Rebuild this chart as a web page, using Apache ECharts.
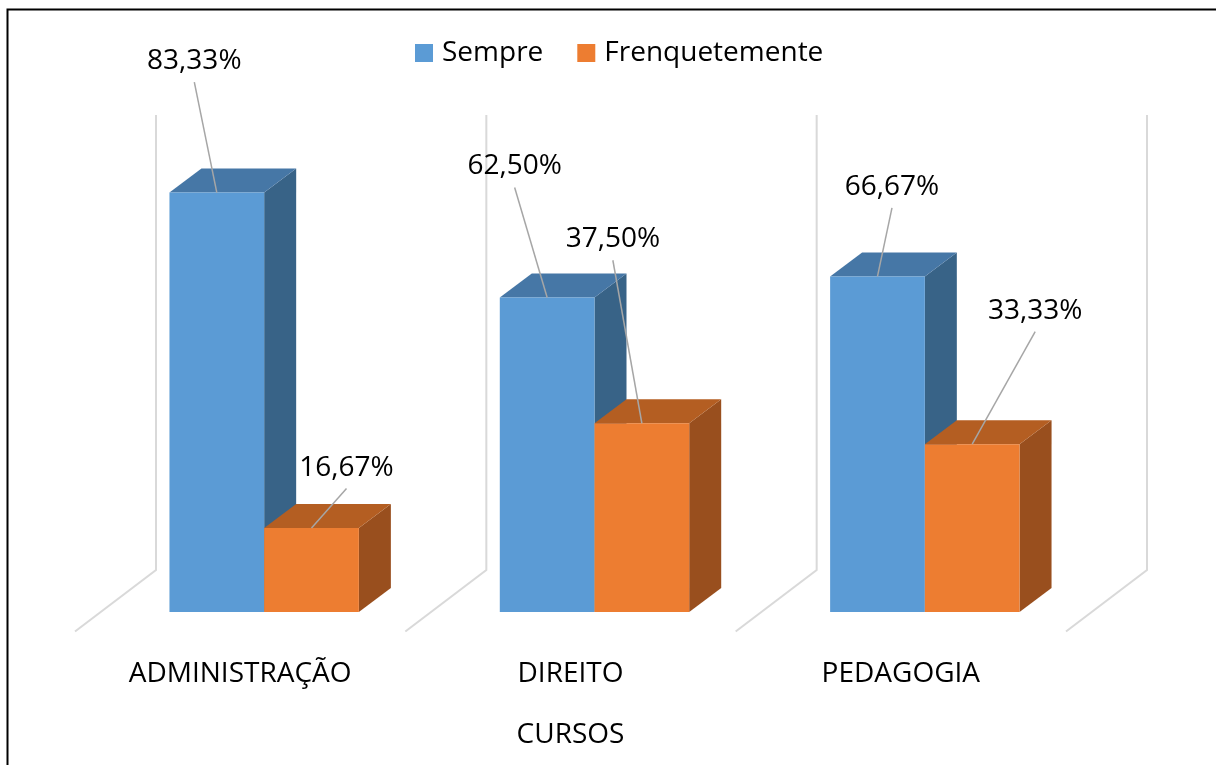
<!DOCTYPE html>
<html>
<head>
<meta charset="utf-8">
<script src="https://cdn.jsdelivr.net/npm/echarts@6/dist/echarts.min.js"></script>
<style>
html,body{margin:0;padding:0;background:#fff;}
#chart{width:1216px;height:765px;}
</style>
</head>
<body>
<div id="chart"></div>
<script>
// ---- data ----
const categories = ['ADMINISTRAÇÃO', 'DIREITO', 'PEDAGOGIA'];
const seriesNames = ['Sempre', 'Frenquetemente'];
const sempre = [83.33, 62.50, 66.67];
const frequentemente = [16.67, 37.50, 33.33];
const axisTitle = 'CURSOS';
const valueMax = 90;

// ---- layout / style (not data) ----
const FONT = '"Open Sans", "Liberation Sans", sans-serif';
const FS = 28;
const BAR_FRAC = 0.2867;
const DEPTH = [32, -24];      // bar depth projection
const WALL = [57, -43];       // back wall offset from bar front plane
const FLOOR = [-24, 19.5];    // floor front edge offset from bar front plane
const colors = {
  front: ['#5B9BD5', '#ED7D31'],
  top:   ['#4677A6', '#B45E22'],
  side:  ['#386387', '#994F1E']
};
// label centre offsets from bar front-top centre, per series per category
const labelOffsets = [
  [[-22.5, -132.5], [-32.5, -132], [14.5, -90.5]],
  [[35, -61.5], [-29, -185], [63, -134.5]]
];

function fmt(v) { return v.toFixed(2).replace('.', ',') + '%'; }

const valueSets = [sempre, frequentemente];

function barGeom(api, ci, v, si) {
  const base = api.coord([ci, 0]);
  const top = api.coord([ci, v]);
  const slot = api.size([1, 0])[0];
  const bw = slot * BAR_FRAC;
  const x0 = si === 0 ? base[0] - bw : base[0];
  return { x0: x0, x1: x0 + bw, yT: top[1], yB: base[1] };
}

function makeBarRender(si) {
  return function (params, api) {
    const ci = api.value(0), v = api.value(1);
    const g = barGeom(api, ci, v, si);
    const dx = DEPTH[0], dy = DEPTH[1];
    return {
      type: 'group',
      children: [
        { type: 'polygon', shape: { points: [[g.x1, g.yT], [g.x1 + dx, g.yT + dy], [g.x1 + dx, g.yB + dy], [g.x1, g.yB]] },
          style: { fill: colors.side[si] } },
        { type: 'polygon', shape: { points: [[g.x0, g.yT], [g.x0 + dx, g.yT + dy], [g.x1 + dx, g.yT + dy], [g.x1, g.yT]] },
          style: { fill: colors.top[si] } },
        { type: 'rect', shape: { x: g.x0, y: g.yT, width: g.x1 - g.x0, height: g.yB - g.yT },
          style: { fill: colors.front[si] } }
      ]
    };
  };
}

function renderLabel(params, api) {
  const ci = api.value(0), v = api.value(1), si = api.value(2);
  const g = barGeom(api, ci, v, si);
  const ax = (g.x0 + g.x1) / 2, ay = g.yT;
  const off = labelOffsets[si][ci];
  const lx = ax + off[0], ly = ay + off[1];
  return {
    type: 'group',
    children: [
      { type: 'line', shape: { x1: lx, y1: ly + 22, x2: ax, y2: ay },
        style: { stroke: '#A6A6A6', lineWidth: 1.5 } },
      { type: 'text', style: { text: fmt(v), x: lx, y: ly + 1, align: 'center', verticalAlign: 'middle',
          font: FS + 'px ' + FONT, fill: '#000' } }
    ]
  };
}

function renderWalls(params, api) {
  const ci = api.value(0);
  const slot = api.size([1, 0])[0];
  const base = api.coord([ci, 0]);
  const topY = api.coord([ci, valueMax])[1];
  const xs = [base[0] - slot / 2];
  if (ci === categories.length - 1) xs.push(base[0] + slot / 2);
  const children = [];
  xs.forEach(function (x) {
    children.push({ type: 'polyline', shape: { points: [
      [x + WALL[0], topY + WALL[1] - 1],
      [x + WALL[0], base[1] + WALL[1] + 1],
      [x + FLOOR[0], base[1] + FLOOR[1]]
    ] }, style: { stroke: '#D9D9D9', lineWidth: 2, fill: null } });
  });
  return { type: 'group', children: children };
}

const labelData = [];
valueSets.forEach(function (vals, si) {
  vals.forEach(function (v, ci) { labelData.push([ci, v, si]); });
});

const chart = echarts.init(document.getElementById('chart'), null, { renderer: 'canvas' });
chart.setOption({
  backgroundColor: '#fff',
  animation: false,
  textStyle: { fontFamily: FONT },
  graphic: [{
    type: 'rect', shape: { x: 7.5, y: 9.5, width: 1240, height: 800 },
    style: { fill: null, stroke: '#000', lineWidth: 2 }, silent: true
  }],
  legend: {
    data: seriesNames,
    left: 415, top: 39,
    icon: 'rect', itemWidth: 18, itemHeight: 18, itemGap: 34,
    padding: 0,
    textStyle: { fontSize: FS, fontFamily: FONT, color: '#000', padding: [0, 0, 0, 4] }
  },
  grid: [
    { left: 99, right: 126, top: 159, bottom: 153 },
    { left: 75, right: 150, top: 200, bottom: 133.3 }
  ],
  xAxis: [
    { type: 'category', gridIndex: 0, data: categories, show: false },
    { type: 'category', gridIndex: 1, data: categories,
      axisLine: { show: false }, axisTick: { show: false },
      axisLabel: { margin: 28, fontSize: FS, fontFamily: FONT, color: '#000' },
      name: axisTitle, nameLocation: 'middle', nameGap: 89,
      nameTextStyle: { fontSize: FS, fontFamily: FONT, color: '#000' } }
  ],
  yAxis: [
    { type: 'value', gridIndex: 0, min: 0, max: valueMax, show: false },
    { type: 'value', gridIndex: 1, min: 0, max: valueMax, show: false }
  ],
  series: [
    { type: 'custom', name: '_walls', xAxisIndex: 0, yAxisIndex: 0, z: 1, silent: true,
      renderItem: renderWalls, data: categories.map(function (c, i) { return [i]; }), encode: { x: 0 } },
    { type: 'custom', name: seriesNames[0], xAxisIndex: 0, yAxisIndex: 0, z: 2,
      itemStyle: { color: colors.front[0] }, renderItem: makeBarRender(0),
      data: sempre.map(function (v, i) { return [i, v]; }), encode: { x: 0, y: 1 } },
    { type: 'custom', name: seriesNames[1], xAxisIndex: 0, yAxisIndex: 0, z: 3,
      itemStyle: { color: colors.front[1] }, renderItem: makeBarRender(1),
      data: frequentemente.map(function (v, i) { return [i, v]; }), encode: { x: 0, y: 1 } },
    { type: 'custom', name: '_labels', xAxisIndex: 0, yAxisIndex: 0, z: 5, silent: true,
      renderItem: renderLabel, data: labelData, encode: { x: 0, y: 1 } }
  ]
});
</script>
</body>
</html>
